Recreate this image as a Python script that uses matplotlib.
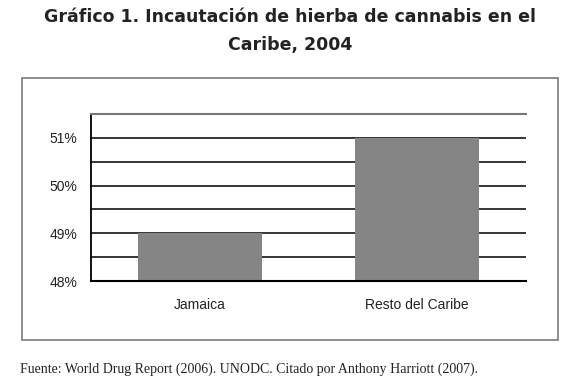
import numpy as np
import matplotlib.pyplot as plt
from matplotlib.patches import Rectangle

categorias = ["Jamaica", "Resto del Caribe"]
valores = [49, 51]
ticks_y = [48, 49, 50, 51]
lineas_y = [48.5, 49, 49.5, 50, 50.5, 51]

titulo = "Gráfico 1. Incautación de hierba de cannabis en el\nCaribe, 2004"
fuente = "Fuente: World Drug Report (2006). UNODC. Citado por Anthony Harriott (2007)."

fig = plt.figure(figsize=(5.8, 3.92), dpi=100)

# marco exterior del gráfico
fig.patches.append(Rectangle((22 / 580, 52 / 392), 536 / 580, 262 / 392,
                             transform=fig.transFigure, fill=False,
                             edgecolor="#7a7a7a", linewidth=1.2, zorder=0))

ax = fig.add_axes([91 / 580, 111 / 392, 435 / 580, 167 / 392])
x = np.arange(len(categorias))
ax.bar(x, valores, width=0.57, color="#858585", zorder=2)

for y in lineas_y:
    ax.axhline(y, color="black", linewidth=1.1, zorder=1)

ax.set_xlim(-0.5, 1.5)
ax.set_ylim(48, 51.5)
ax.set_yticks(ticks_y)
ax.set_yticklabels([f"{v}%" for v in ticks_y], family="Liberation Sans",
                   fontsize=10, color="#222222")
ax.set_xticks(x)
ax.set_xticklabels(categorias, family="Liberation Sans", fontsize=10,
                   color="#222222")
ax.tick_params(axis="both", length=0)
ax.tick_params(axis="y", pad=10)
ax.tick_params(axis="x", pad=12)

ax.spines["right"].set_visible(False)
ax.spines["top"].set_color("#777777")
ax.spines["top"].set_linewidth(1.5)
ax.spines["left"].set_linewidth(1.3)
ax.spines["bottom"].set_linewidth(1.5)

fig.text(0.5, 1 - 31 / 392, titulo, ha="center", va="center",
         fontsize=12.5, fontweight="bold", family="DejaVu Sans",
         color="#222222", linespacing=1.65)

fig.text(20 / 580, 1 - 369 / 392, fuente, ha="left", va="center",
         fontsize=10, family="Liberation Serif", color="#222222")

fig.savefig("out.png", dpi=100)
